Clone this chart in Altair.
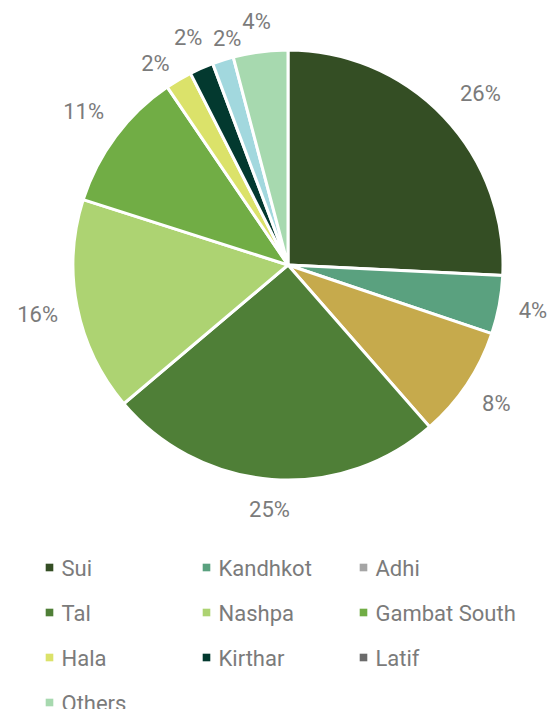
import altair as alt
import pandas as pd

names = ["Sui", "Kandhkot", "Adhi", "Tal", "Nashpa", "Gambat South",
         "Hala", "Kirthar", "Latif", "Others"]
values = [25.8, 4.4, 8.4, 25.3, 16.1, 10.6, 2.0, 1.8, 1.6, 4.1]
slice_colors = ["#344e24", "#5aa17f", "#c6aa4c", "#4f7f37", "#add372",
                "#71ad45", "#dbe26a", "#03392f", "#a2d8de", "#a7d9af"]
legend_colors = ["#344e24", "#5aa17f", "#a5a5a5", "#4f7f37", "#add372",
                 "#71ad45", "#dbe26a", "#03392f", "#6b6b6b", "#a7d9af"]

df = pd.DataFrame({
    "name": names,
    "value": values,
    "fillc": slice_colors,
    "legc": legend_colors,
    "idx": list(range(len(names))),
})
df["label"] = [f"{round(v):d}%" for v in values]

FONT = "Roboto"
GRAY = "#7b7b7b"
FS = 22
CX, CY, R = 280, 257, 215
GAP = 236  # distance from centre to the near edge of each label box
LEG_COLS = 3

base = alt.Chart(df).encode(
    order=alt.Order("idx:Q"),
    x=alt.value(CX),
    y=alt.value(CY),
)

slices = base.mark_arc(outerRadius=R, stroke="white", strokeWidth=3).encode(
    theta=alt.Theta("value:Q", stack=True),
    fill=alt.Fill("fillc:N", scale=None),
)

labels = base.transform_window(
    cum="sum(value)", sort=[alt.SortField("idx")], frame=[None, 0]
).transform_joinaggregate(
    total="sum(value)"
).transform_calculate(
    ang="2 * PI * (datum.cum - datum.value / 2) / datum.total",
    lr=f"{GAP} + 6 * length(datum.label) * abs(sin(datum.ang)) + 8 * abs(cos(datum.ang))",
).mark_text(
    fontSize=FS, font=FONT, color=GRAY,
    dx=alt.expr("datum.name === 'Latif' ? 14 : datum.name === 'Hala' ? -6 : datum.name === 'Sui' ? 8 : 0"),
    dy=alt.expr("datum.name === 'Latif' ? 10 : datum.name === 'Hala' ? 13 : datum.name === 'Sui' ? 5 : 0"),
).encode(
    theta=alt.Theta("ang:Q", scale=None),
    radius=alt.Radius("lr:Q", scale=None),
    text="label:N",
)

# legend: 3 columns, row-major
leg = alt.Chart(df).transform_calculate(
    col=f"datum.idx % {LEG_COLS}",
    row=f"floor(datum.idx / {LEG_COLS})",
).encode(
    x=alt.X("col:Q", scale=alt.Scale(domain=[0, 2], range=[41.5, 355.5]), axis=None),
    y=alt.Y("row:Q", scale=alt.Scale(domain=[0, 3], range=[559.5, 694.5]), axis=None),
)
leg_sym = leg.mark_square(size=58, opacity=1).encode(
    color=alt.Color("legc:N", scale=None)
)
leg_txt = leg.mark_text(
    align="left", baseline="middle", dx=12, dy=1, fontSize=FS, font=FONT, color=GRAY
).encode(text="name:N")

chart = alt.layer(slices, labels, leg_sym, leg_txt).properties(
    width=539,
    height=701,
    autosize=alt.AutoSizeParams(type="none"),
    padding=0,
).configure_view(stroke=None)

chart.save("out.html", embed_options={"renderer": "svg", "actions": False})
